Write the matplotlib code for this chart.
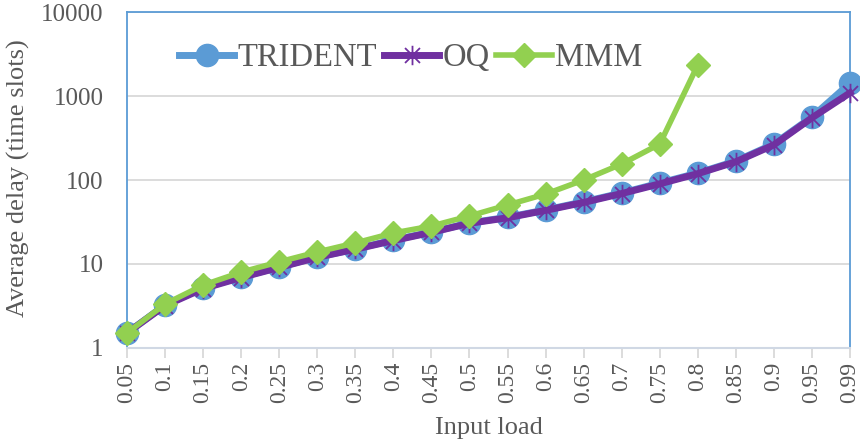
import matplotlib
matplotlib.use("Agg")
import matplotlib.pyplot as plt
from matplotlib.path import Path
import numpy as np

loads = ["0.05", "0.1", "0.15", "0.2", "0.25", "0.3", "0.35", "0.4", "0.45", "0.5",
         "0.55", "0.6", "0.65", "0.7", "0.75", "0.8", "0.85", "0.9", "0.95", "0.99"]
trident = [1.51, 3.25, 5.2, 7.0, 9.2, 12.1, 15.1, 19.3, 24.0, 30.8,
           36, 44, 55, 70, 92, 121, 168, 268, 562, 1420]
oq = [1.51, 3.2, 5.1, 6.9, 9.1, 12.0, 15.0, 19.0, 23.8, 30.5,
      35.5, 43.5, 54, 69, 90, 119, 165, 262, 550, 1090]
mmm = [1.51, 3.34, 5.6, 8.0, 10.6, 13.9, 17.8, 23.4, 28.3, 37.3,
       50.4, 68, 100, 155, 268, 2340]

plt.rcParams['font.family'] = ['Liberation Serif', 'DejaVu Serif']
txt = '#595959'

fig = plt.figure(figsize=(8.6, 4.46), dpi=100)
ax = fig.add_axes([127/860, 1-348/446, (850-127)/860, (348-12)/446])

x = np.arange(len(loads))
star = Path([(-1, -1), (1, 1), (-1, 1), (1, -1), (0, -1.3), (0, 1.3)],
            [Path.MOVETO, Path.LINETO, Path.MOVETO, Path.LINETO, Path.MOVETO, Path.LINETO])

ax.plot(x, trident, color='#5B9BD5', lw=5, marker='o', ms=16, label='TRIDENT',
        clip_on=False, zorder=3)
ax.plot(x, oq, color='#7030A0', lw=5, marker=star, ms=14, mew=1.3,
        mec='#7030A0', label='OQ', clip_on=False, zorder=4)
ax.plot(x[:len(mmm)], mmm, color='#92D050', lw=4, marker='D', ms=12,
        label='MMM', clip_on=False, zorder=5)

ax.set_yscale('log')
ax.set_ylim(1, 10000)
ax.set_xlim(0, len(loads)-1)
ax.set_yticks([1, 10, 100, 1000, 10000])
ax.set_yticklabels(['1', '10', '100', '1000', '10000'])
ax.yaxis.set_minor_locator(matplotlib.ticker.NullLocator())
ax.set_xticks(x)
ax.set_xticklabels(loads, rotation=90)
ax.tick_params(axis='y', length=0, labelsize=18, labelcolor=txt, pad=17)
ax.tick_params(axis='x', length=7, color='#D9D9D9', width=1.3, labelsize=17,
               labelcolor=txt, pad=3)
ax.grid(axis='y', color='#D9D9D9', lw=1.3)
ax.set_axisbelow(True)

for s in ['left', 'right', 'top']:
    ax.spines[s].set_color('#5B9BD5')
    ax.spines[s].set_linewidth(1.3)
ax.spines['bottom'].set_color('#D0D8E4')
ax.spines['bottom'].set_linewidth(1.5)

ax.set_xlabel('Input load', fontsize=19, color=txt)
ax.xaxis.set_label_coords((489-127)/723, (348-428)/336)
ax.xaxis.label.set_va('center')
ax.set_ylabel('Average delay (time slots)', fontsize=19, color=txt)
ax.yaxis.set_label_coords((18-127)/723, (348-178)/336)
ax.yaxis.label.set_va('center')

leg = ax.legend(loc='center left', bbox_to_anchor=(52/723, (348-58)/336), ncol=3,
                frameon=False, fontsize=23.5, handlelength=1.7, handletextpad=0.1,
                columnspacing=0.2, labelcolor=txt, borderaxespad=0, borderpad=0)

fig.savefig('out.png', dpi=100)
